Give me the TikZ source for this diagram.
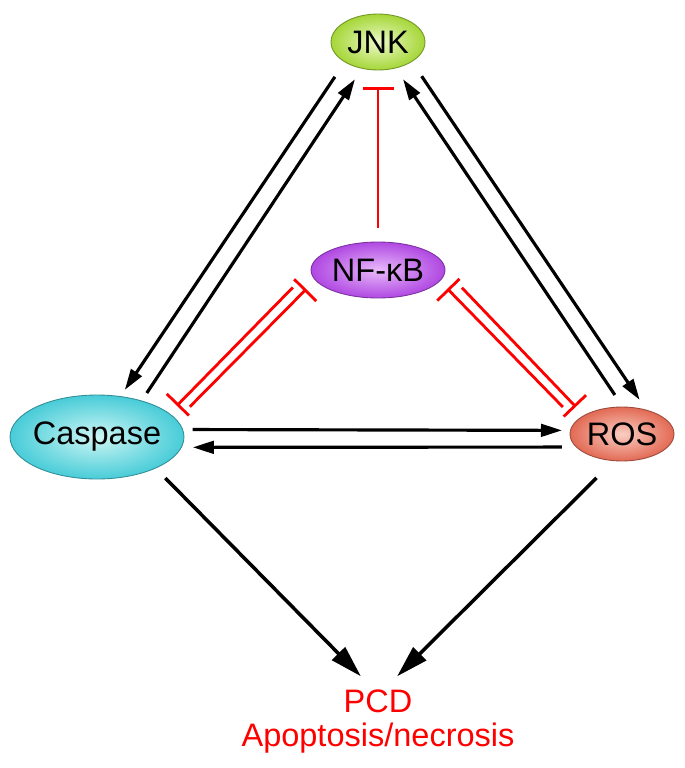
\documentclass[tikz,border=0pt]{standalone}
\usepackage{fontspec}
\setmainfont{Liberation Sans}
\usetikzlibrary{shapes.geometric, arrows.meta}

\definecolor{jnkin}{RGB}{236,250,200}
\definecolor{jnkout}{RGB}{165,214,55}
\definecolor{nfin}{RGB}{232,185,250}
\definecolor{nfout}{RGB}{176,72,226}
\definecolor{caspin}{RGB}{205,246,244}
\definecolor{caspout}{RGB}{72,204,216}
\definecolor{rosin}{RGB}{250,205,195}
\definecolor{rosout}{RGB}{226,106,84}

\begin{document}
\begin{tikzpicture}[
    x=0.02cm, y=-0.02cm,
    font=\fontsize{18.5}{22}\selectfont,
    protein/.style={ellipse, inner sep=0pt, outer sep=0pt, line width=0.5pt,
        draw=#1out!70!black, inner color=#1in, outer color=#1out},
    outcome/.style={text=red, inner sep=6pt, anchor=base},
    arr/.style={line width=1.8pt, -{Triangle[length=0.42cm, width=0.25cm]}},
    bigarr/.style={line width=2pt, -{Triangle[length=0.64cm, width=0.36cm]}},
    inhib/.style={red, line width=1.6pt, -{Bar[width=0.62cm]}}
]
\useasboundingbox (0,0) rectangle (685,768);

% Signalling Nodes
\node[protein=jnk, minimum width=1.88cm, minimum height=1.12cm, label=center:JNK] (jnk) at (378,42) {};
\node[protein=nf, minimum width=2.68cm, minimum height=1.12cm, label=center:NF-κB] (nf) at (378,270) {};
\node[protein=casp, minimum width=3.48cm, minimum height=1.68cm, label=center:Caspase] (casp) at (97,437) {};
\node[protein=ros, minimum width=2.08cm, minimum height=1.08cm, label=center:ROS] (ros) at (622,434) {};

% Outcome
\node[outcome] (pcd) at (378,712) {PCD};
\node[outcome] (apo) at (378,746) {Apoptosis/necrosis};

% JNK <-> Caspase
\draw[arr, shorten <=0.36cm, shorten >=0.16cm] (jnk.211) -- (casp.60);
\draw[arr, shorten <=0.19cm, shorten >=0.26cm] (casp.39) -- (jnk.239);

% JNK <-> ROS
\draw[arr, shorten <=0.355cm, shorten >=0.25cm] (jnk.330) -- (ros.44);
\draw[arr, shorten <=0.29cm, shorten >=0.27cm] (ros.88) -- (jnk.304);

% Caspase <-> ROS
\draw[arr, shorten <=0.2cm, shorten >=0.17cm] (casp.5) -- (ros.176);
\draw[arr, shorten <=0.29cm, shorten >=0.23cm] (ros.196) -- (casp.353);

% Inhibition by NF-kB
\draw[inhib, shorten <=0.28cm, shorten >=0.34cm] (nf.north) -- (jnk.south);
\draw[inhib, shorten <=0.52cm, shorten >=0.22cm] (nf.179) -- (casp.18);
\draw[inhib, shorten <=0.375cm, shorten >=0.26cm] (casp.12) -- (nf.189);
\draw[inhib, shorten <=0.39cm, shorten >=0.22cm] (ros.164) -- (nf.350);
\draw[inhib, shorten <=0.49cm, shorten >=0.24cm] (nf.0) -- (ros.154);

% Towards cell death
\draw[bigarr, shorten <=0.28cm, shorten >=0.06cm] (casp.332) -- ([xshift=-0.3cm]pcd.north);
\draw[bigarr, shorten <=0.49cm, shorten >=0.06cm] (ros.253) -- ([xshift=0.34cm]pcd.north);

\end{tikzpicture}
\end{document}
